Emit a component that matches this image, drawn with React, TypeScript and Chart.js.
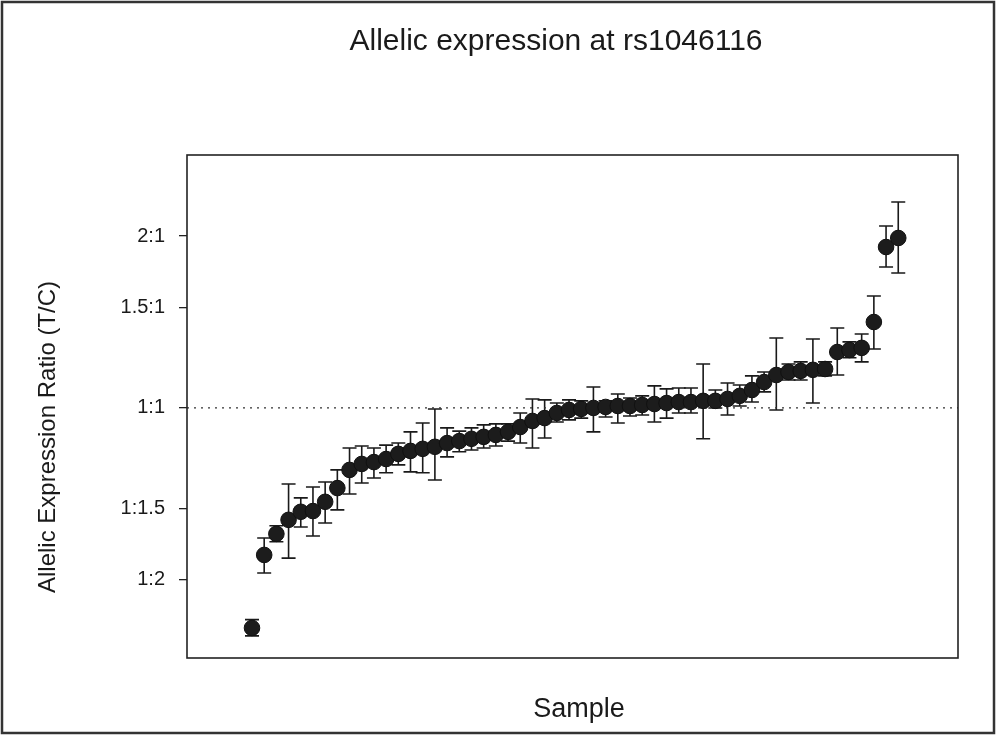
import React, { useEffect, useRef } from "react";
import { Chart, registerables } from "chart.js";
Chart.register(...registerables);

const chartTitle = "Allelic expression at rs1046116";
const xTitle = "Sample";
const yTitle = "Allelic Expression Ratio (T/C)";

const ratio = [
  0.412, 0.553, 0.602, 0.637, 0.658, 0.66, 0.685, 0.724, 0.779, 0.798,
  0.804, 0.814, 0.831, 0.841, 0.848, 0.855, 0.868, 0.875, 0.883, 0.89,
  0.897, 0.908, 0.926, 0.949, 0.96, 0.98, 0.992, 0.996, 1.0, 1.004,
  1.008, 1.008, 1.012, 1.016, 1.02, 1.024, 1.024, 1.029, 1.029, 1.037,
  1.05, 1.075, 1.11, 1.142, 1.156, 1.161, 1.166, 1.17, 1.253, 1.263,
  1.274, 1.414, 1.913, 1.984,
];
const ratioLow = [
  0.399, 0.514, 0.583, 0.546, 0.619, 0.597, 0.629, 0.663, 0.707, 0.739,
  0.754, 0.77, 0.795, 0.773, 0.77, 0.748, 0.821, 0.838, 0.844, 0.851,
  0.858, 0.875, 0.868, 0.851, 0.886, 0.945, 0.953, 0.96, 0.908, 0.964,
  0.941, 0.968, 0.972, 0.945, 0.96, 0.98, 0.98, 0.883, 1.0, 0.972,
  1.008, 1.024, 1.067, 0.992, 1.119, 1.119, 1.02, 1.138, 1.142, 1.224,
  1.204, 1.268, 1.765, 1.723,
];
const ratioHigh = [
  0.426, 0.592, 0.622, 0.736, 0.696, 0.727, 0.742, 0.779, 0.851, 0.858,
  0.851, 0.861, 0.868, 0.908, 0.941, 0.996, 0.923, 0.911, 0.923, 0.934,
  0.938, 0.938, 0.98, 1.037, 1.033, 1.02, 1.033, 1.029, 1.088, 1.029,
  1.058, 1.041, 1.05, 1.093, 1.08, 1.084, 1.084, 1.194, 1.075, 1.106,
  1.097, 1.138, 1.156, 1.326, 1.194, 1.204, 1.32, 1.204, 1.38, 1.305,
  1.347, 1.57, 2.082, 2.294,
];
const tickValues = [0.5, 2 / 3, 1, 1.5, 2];
const tickLabels = ["1:2", "1:1.5", "1:1", "1.5:1", "2:1"];
const referenceRatio = 1;

const X_MIN = -5.33;
const X_MAX = 57.9;
const Y_MIN = 0.365;
const Y_MAX = 2.772;

const FONT = "'Liberation Sans', Arial, sans-serif";

export default function App() {
  const canvasRef = useRef<HTMLCanvasElement | null>(null);

  useEffect(() => {
    document.body.style.margin = "0";
    const canvas = canvasRef.current;
    if (!canvas) return;

    const points = ratio.map((v, i) => ({ x: i, y: v }));

    const decorPlugin = {
      id: "decor",
      beforeDatasetsDraw(chart: any) {
        const { ctx } = chart;
        const xs = chart.scales.x;
        const ys = chart.scales.y;
        ctx.save();
        ctx.strokeStyle = "#1a1a1a";
        ctx.lineWidth = 1.6;
        const cap = 7;
        ratio.forEach((_, i) => {
          const px = xs.getPixelForValue(i);
          const pLo = ys.getPixelForValue(ratioLow[i]);
          const pHi = ys.getPixelForValue(ratioHigh[i]);
          ctx.beginPath();
          ctx.moveTo(px, pLo);
          ctx.lineTo(px, pHi);
          ctx.moveTo(px - cap, pLo);
          ctx.lineTo(px + cap, pLo);
          ctx.moveTo(px - cap, pHi);
          ctx.lineTo(px + cap, pHi);
          ctx.stroke();
        });
        ctx.restore();
      },
      afterDraw(chart: any) {
        const { ctx, chartArea } = chart;
        ctx.save();
        // plot frame
        ctx.strokeStyle = "#222";
        ctx.lineWidth = 1.6;
        ctx.strokeRect(
          chartArea.left,
          chartArea.top,
          chartArea.right - chartArea.left,
          chartArea.bottom - chartArea.top
        );
        // outer figure border
        ctx.strokeStyle = "#333";
        ctx.lineWidth = 2.5;
        ctx.strokeRect(2, 2, chart.width - 4, chart.height - 4);
        // texts
        ctx.fillStyle = "#1a1a1a";
        ctx.textAlign = "center";
        ctx.textBaseline = "middle";
        ctx.font = `30px ${FONT}`;
        ctx.fillText(chartTitle, 556, 42);
        ctx.font = `27px ${FONT}`;
        ctx.fillText(xTitle, 579, 710);
        ctx.save();
        ctx.translate(48, 437);
        ctx.rotate(-Math.PI / 2);
        ctx.font = `24px ${FONT}`;
        ctx.fillText(yTitle, 0, 0);
        ctx.restore();
        ctx.restore();
      },
    };

    const chart = new Chart(canvas, {
      type: "scatter",
      data: {
        datasets: [
          {
            type: "line",
            label: "1:1",
            data: [
              { x: X_MIN, y: referenceRatio },
              { x: X_MAX, y: referenceRatio },
            ],
            borderColor: "#333",
            borderWidth: 1.3,
            borderDash: [2, 5],
            pointRadius: 0,
            fill: false,
            order: 2,
          } as any,
          {
            label: "Allelic ratio",
            data: points,
            backgroundColor: "#1c1c1c",
            borderColor: "#111",
            borderWidth: 1,
            pointRadius: 7.8,
            pointHoverRadius: 7.8,
            order: 1,
          },
        ],
      },
      options: {
        responsive: false,
        animation: false,
        events: [],
        layout: { padding: { top: 155, right: 38, bottom: 0, left: 0 } },
        plugins: {
          legend: { display: false },
          tooltip: { enabled: false },
          title: { display: false },
        },
        scales: {
          x: {
            type: "linear",
            min: X_MIN,
            max: X_MAX,
            grid: { display: false },
            border: { display: false },
            ticks: { display: false },
            afterFit(scale: any) {
              scale.height = 77;
            },
          },
          y: {
            type: "logarithmic",
            min: Y_MIN,
            max: Y_MAX,
            bounds: "data",
            afterBuildTicks(scale: any) {
              scale.ticks = tickValues.map((v) => ({ value: v }));
            },
            grid: {
              display: true,
              drawOnChartArea: false,
              drawTicks: true,
              tickLength: 8,
              color: "#222",
              lineWidth: 1.3,
            },
            border: { display: false },
            ticks: {
              color: "#1a1a1a",
              font: { family: FONT, size: 20 },
              padding: 14,
              autoSkip: false,
              callback(value: any) {
                const idx = tickValues.findIndex((t) => Math.abs(t - Number(value)) < 1e-6);
                return idx >= 0 ? tickLabels[idx] : "";
              },
            },
            afterFit(scale: any) {
              scale.width = 187;
            },
          },
        },
      },
      plugins: [decorPlugin],
    });

    return () => {
      chart.destroy();
    };
  }, []);

  return (
    <div style={{ width: 996, height: 735, background: "#fff" }}>
      <canvas ref={canvasRef} width={996} height={735} style={{ display: "block" }} />
    </div>
  );
}
